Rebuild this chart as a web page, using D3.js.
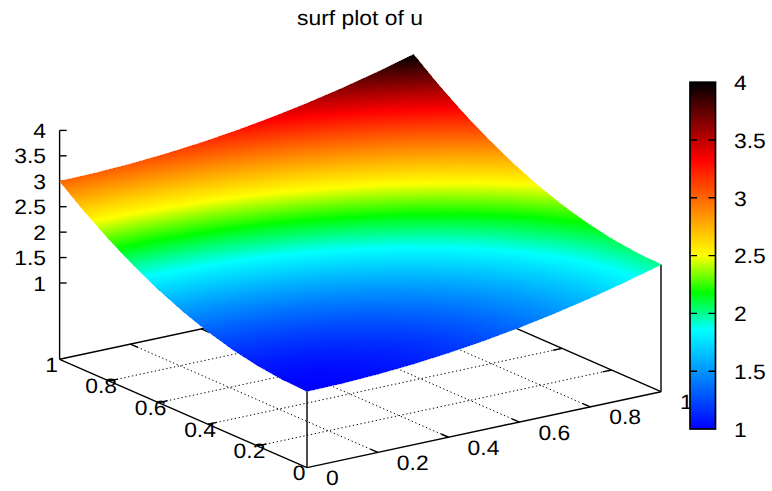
<!DOCTYPE html>
<html>
<head>
<meta charset="utf-8">
<script src="https://cdnjs.cloudflare.com/ajax/libs/d3/7.8.5/d3.min.js"></script>
<style>
  html, body { margin: 0; padding: 0; background: #fff; }
  svg { display: block; }
  text { font-family: "Liberation Sans", Arial, sans-serif; font-size: 20.8px; fill: #000; text-rendering: geometricPrecision; }
</style>
</head>
<body>
<svg id="chart" width="772" height="491"></svg>
<script>
var xValues = [0, 0.1, 0.2, 0.3, 0.4, 0.5, 0.6, 0.7, 0.8, 0.9, 1];
var yValues = [0, 0.1, 0.2, 0.3, 0.4, 0.5, 0.6, 0.7, 0.8, 0.9, 1];

// u, one row per y value
var uValues = [
  [1, 1.01, 1.04, 1.09, 1.16, 1.25, 1.36, 1.49, 1.64, 1.81, 2],
  [1.02, 1.03, 1.06, 1.11, 1.18, 1.27, 1.38, 1.51, 1.66, 1.83, 2.02],
  [1.08, 1.09, 1.12, 1.17, 1.24, 1.33, 1.44, 1.57, 1.72, 1.89, 2.08],
  [1.18, 1.19, 1.22, 1.27, 1.34, 1.43, 1.54, 1.67, 1.82, 1.99, 2.18],
  [1.32, 1.33, 1.36, 1.41, 1.48, 1.57, 1.68, 1.81, 1.96, 2.13, 2.32],
  [1.5, 1.51, 1.54, 1.59, 1.66, 1.75, 1.86, 1.99, 2.14, 2.31, 2.5],
  [1.72, 1.73, 1.76, 1.81, 1.88, 1.97, 2.08, 2.21, 2.36, 2.53, 2.72],
  [1.98, 1.99, 2.02, 2.07, 2.14, 2.23, 2.34, 2.47, 2.62, 2.79, 2.98],
  [2.28, 2.29, 2.32, 2.37, 2.44, 2.53, 2.64, 2.77, 2.92, 3.09, 3.28],
  [2.62, 2.63, 2.66, 2.71, 2.78, 2.87, 2.98, 3.11, 3.26, 3.43, 3.62],
  [3, 3.01, 3.04, 3.09, 3.16, 3.25, 3.36, 3.49, 3.64, 3.81, 4]
];

var xTicks = [0, 0.2, 0.4, 0.6, 0.8, 1];
var yTicks = [0, 0.2, 0.4, 0.6, 0.8, 1];
var zTicks = [1, 1.5, 2, 2.5, 3, 3.5, 4];
var cbTicks = [1, 1.5, 2, 2.5, 3, 3.5, 4];

var paletteValues = [1, 1.86, 2.18, 2.5, 3.33, 4];
var paletteColors = ["#0000ff", "#00ffff", "#00ff00", "#ffff00", "#ff0000", "#000000"];

var svg = d3.select("#chart");
var defs = svg.append("defs");

// oblique projection of the box, gnuplot view
var xToPx = d3.scaleLinear().domain([0, 1]).range([0, 354]);
var xToPy = d3.scaleLinear().domain([0, 1]).range([0, -75.9]);
var yToPx = d3.scaleLinear().domain([0, 1]).range([0, -247.4]);
var yToPy = d3.scaleLinear().domain([0, 1]).range([0, -108.3]);
var zToPy = d3.scaleLinear().domain([-0.5, 4]).range([0, -228.9]);
var zBase = -0.5;

function project(x, y, z) {
  return [307 + xToPx(x) + yToPx(y), 467.6 + xToPy(x) + yToPy(y) + zToPy(z)];
}

// the reference text is a bit wider than it is tall
function textAt(x, y) {
  return "translate(" + x + "," + y + ") scale(1.1,1)";
}

var color = d3.scaleLinear().domain(paletteValues).range(paletteColors);

// shared stops, every triangle gradient points back to these
var base = defs.append("linearGradient").attr("id", "palette");
base.selectAll("stop")
    .data(paletteValues)
  .enter().append("stop")
    .attr("offset", function(d) { return (d - 1) / 3; })
    .attr("stop-color", function(d) { return color(d); });

var tris = [];
yValues.slice(1).forEach(function(yv, j) {
  xValues.slice(1).forEach(function(xv, i) {
    var a = [xValues[i], yValues[j], uValues[j][i]],
        b = [xv, yValues[j], uValues[j][i + 1]],
        c = [xv, yv, uValues[j + 1][i + 1]],
        d = [xValues[i], yv, uValues[j + 1][i]];
    tris.push([a, b, c]);
    tris.push([a, c, d]);
  });
});

var surface = svg.append("g").attr("class", "surface").attr("shape-rendering", "crispEdges");

function drawBase() {
  var g = svg.append("g").attr("class", "base");

  // dotted grid
  xTicks.slice(1, -1).forEach(function(t) {
    line(g, project(t, 0, zBase), project(t, 1, zBase), "#000", 1, "1.3,2.6");
  });
  yTicks.slice(1, -1).forEach(function(t) {
    line(g, project(0, t, zBase), project(1, t, zBase), "#000", 1, "1.3,2.6");
  });

  // box edges
  line(g, project(0, 0, zBase), project(1, 0, zBase), "#000", 1.4);
  line(g, project(0, 0, zBase), project(0, 1, zBase), "#000", 1.4);
  line(g, project(1, 0, zBase), project(1, 1, zBase), "#000", 1.4);
  line(g, project(0, 1, zBase), project(1, 1, zBase), "#000", 1.4);

  // short inward ticks on all four edges
  xTicks.slice(1, -1).forEach(function(t) {
    line(g, project(t, 0, zBase), project(t, 0.03, zBase), "#000", 1.4);
    line(g, project(t, 1, zBase), project(t, 0.97, zBase), "#000", 1.4);
  });
  yTicks.slice(1, -1).forEach(function(t) {
    line(g, project(0, t, zBase), project(0.025, t, zBase), "#000", 1.4);
    line(g, project(1, t, zBase), project(0.975, t, zBase), "#000", 1.4);
  });

  // verticals
  line(g, project(0, 1, zBase), project(0, 1, 4), "#000", 1.4);
  line(g, project(1, 0, zBase), project(1, 0, 2), "#000", 1.4);
  line(g, project(0, 0, zBase), project(0, 0, 1), "#000", 1.4);

  zTicks.forEach(function(t) {
    var p = project(0, 1, t);
    line(g, p, [p[0] + 7, p[1]], "#000", 1.4);
  });

  g.selectAll("text.x")
      .data(xTicks)
    .enter().append("text")
      .attr("class", "x")
      .attr("transform", function(d) {
        var p = project(d, 0, zBase);
        return textAt(p[0] + 19, p[1] + 17.5);
      })
      .text(function(d) { return d; });

  g.selectAll("text.y")
      .data(yTicks)
    .enter().append("text")
      .attr("class", "y")
      .attr("text-anchor", "middle")
      .attr("transform", function(d) {
        var p = project(0, d, zBase);
        return textAt(p[0] - 8, p[1] + 12.5);
      })
      .text(function(d) { return d; });

  g.selectAll("text.z")
      .data(zTicks)
    .enter().append("text")
      .attr("class", "z")
      .attr("text-anchor", "end")
      .attr("transform", function(d) { return textAt(46, project(0, 1, d)[1] + 7.6); })
      .text(function(d) { return d; });
}

function line(g, p, q, stroke, width, dash) {
  g.append("line")
      .attr("x1", p[0]).attr("y1", p[1])
      .attr("x2", q[0]).attr("y2", q[1])
      .attr("stroke", stroke)
      .attr("stroke-width", width)
      .attr("stroke-dasharray", dash || null);
}

drawBase();
surface.raise();

// each triangle gets a gradient along the steepest direction of u
tris.forEach(function(t, i) {
  var p = t.map(function(v) { return project(v[0], v[1], v[2]); });
  var ax = p[1][0] - p[0][0], ay = p[1][1] - p[0][1],
      bx = p[2][0] - p[0][0], by = p[2][1] - p[0][1],
      du1 = t[1][2] - t[0][2], du2 = t[2][2] - t[0][2],
      det = ax * by - ay * bx;
  var gx = (du1 * by - du2 * ay) / det,
      gy = (ax * du2 - bx * du1) / det,
      g2 = gx * gx + gy * gy;
  var id = "tri" + i;
  var start = (1 - t[0][2]) / g2, end = (4 - t[0][2]) / g2;
  defs.append("linearGradient")
      .attr("id", id)
      .attr("href", "#palette")
      .attr("gradientUnits", "userSpaceOnUse")
      .attr("x1", p[0][0] + gx * start).attr("y1", p[0][1] + gy * start)
      .attr("x2", p[0][0] + gx * end).attr("y2", p[0][1] + gy * end);
  surface.append("polygon")
      .attr("points", p.join(" "))
      .attr("fill", "url(#" + id + ")")
      .attr("stroke", "url(#" + id + ")")
      .attr("stroke-width", 0.6)
      .attr("stroke-linejoin", "round");
});

// colour box
var cbScale = d3.scaleLinear().domain([1, 4]).range([429, 82.2]);
var cbGrad = defs.append("linearGradient")
    .attr("id", "cbGrad")
    .attr("href", "#palette")
    .attr("gradientUnits", "userSpaceOnUse")
    .attr("x1", 0).attr("y1", cbScale(1))
    .attr("x2", 0).attr("y2", cbScale(4));

var cb = svg.append("g").attr("class", "colorbox");
cb.append("rect")
    .attr("x", 690).attr("y", cbScale(4))
    .attr("width", 25.5).attr("height", cbScale(1) - cbScale(4))
    .attr("fill", "url(#cbGrad)")
    .attr("stroke", "#000").attr("stroke-width", 1.7);

cb.selectAll("path.tick")
    .data(cbTicks.slice(1, -1))
  .enter().append("path")
    .attr("class", "tick")
    .attr("d", function(d) {
      var y = cbScale(d);
      return "M690," + y + "h7M715.5," + y + "h-7";
    })
    .attr("stroke", "#000").attr("stroke-width", 1.4).attr("fill", "none");

cb.selectAll("text")
    .data(cbTicks)
  .enter().append("text")
    .attr("transform", function(d) { return textAt(734, cbScale(d) + 7.7); })
    .text(function(d) { return d; });

svg.append("text")
    .attr("text-anchor", "middle")
    .attr("transform", textAt(360, 25))
    .text("surf plot of u");
</script>
</body>
</html>
